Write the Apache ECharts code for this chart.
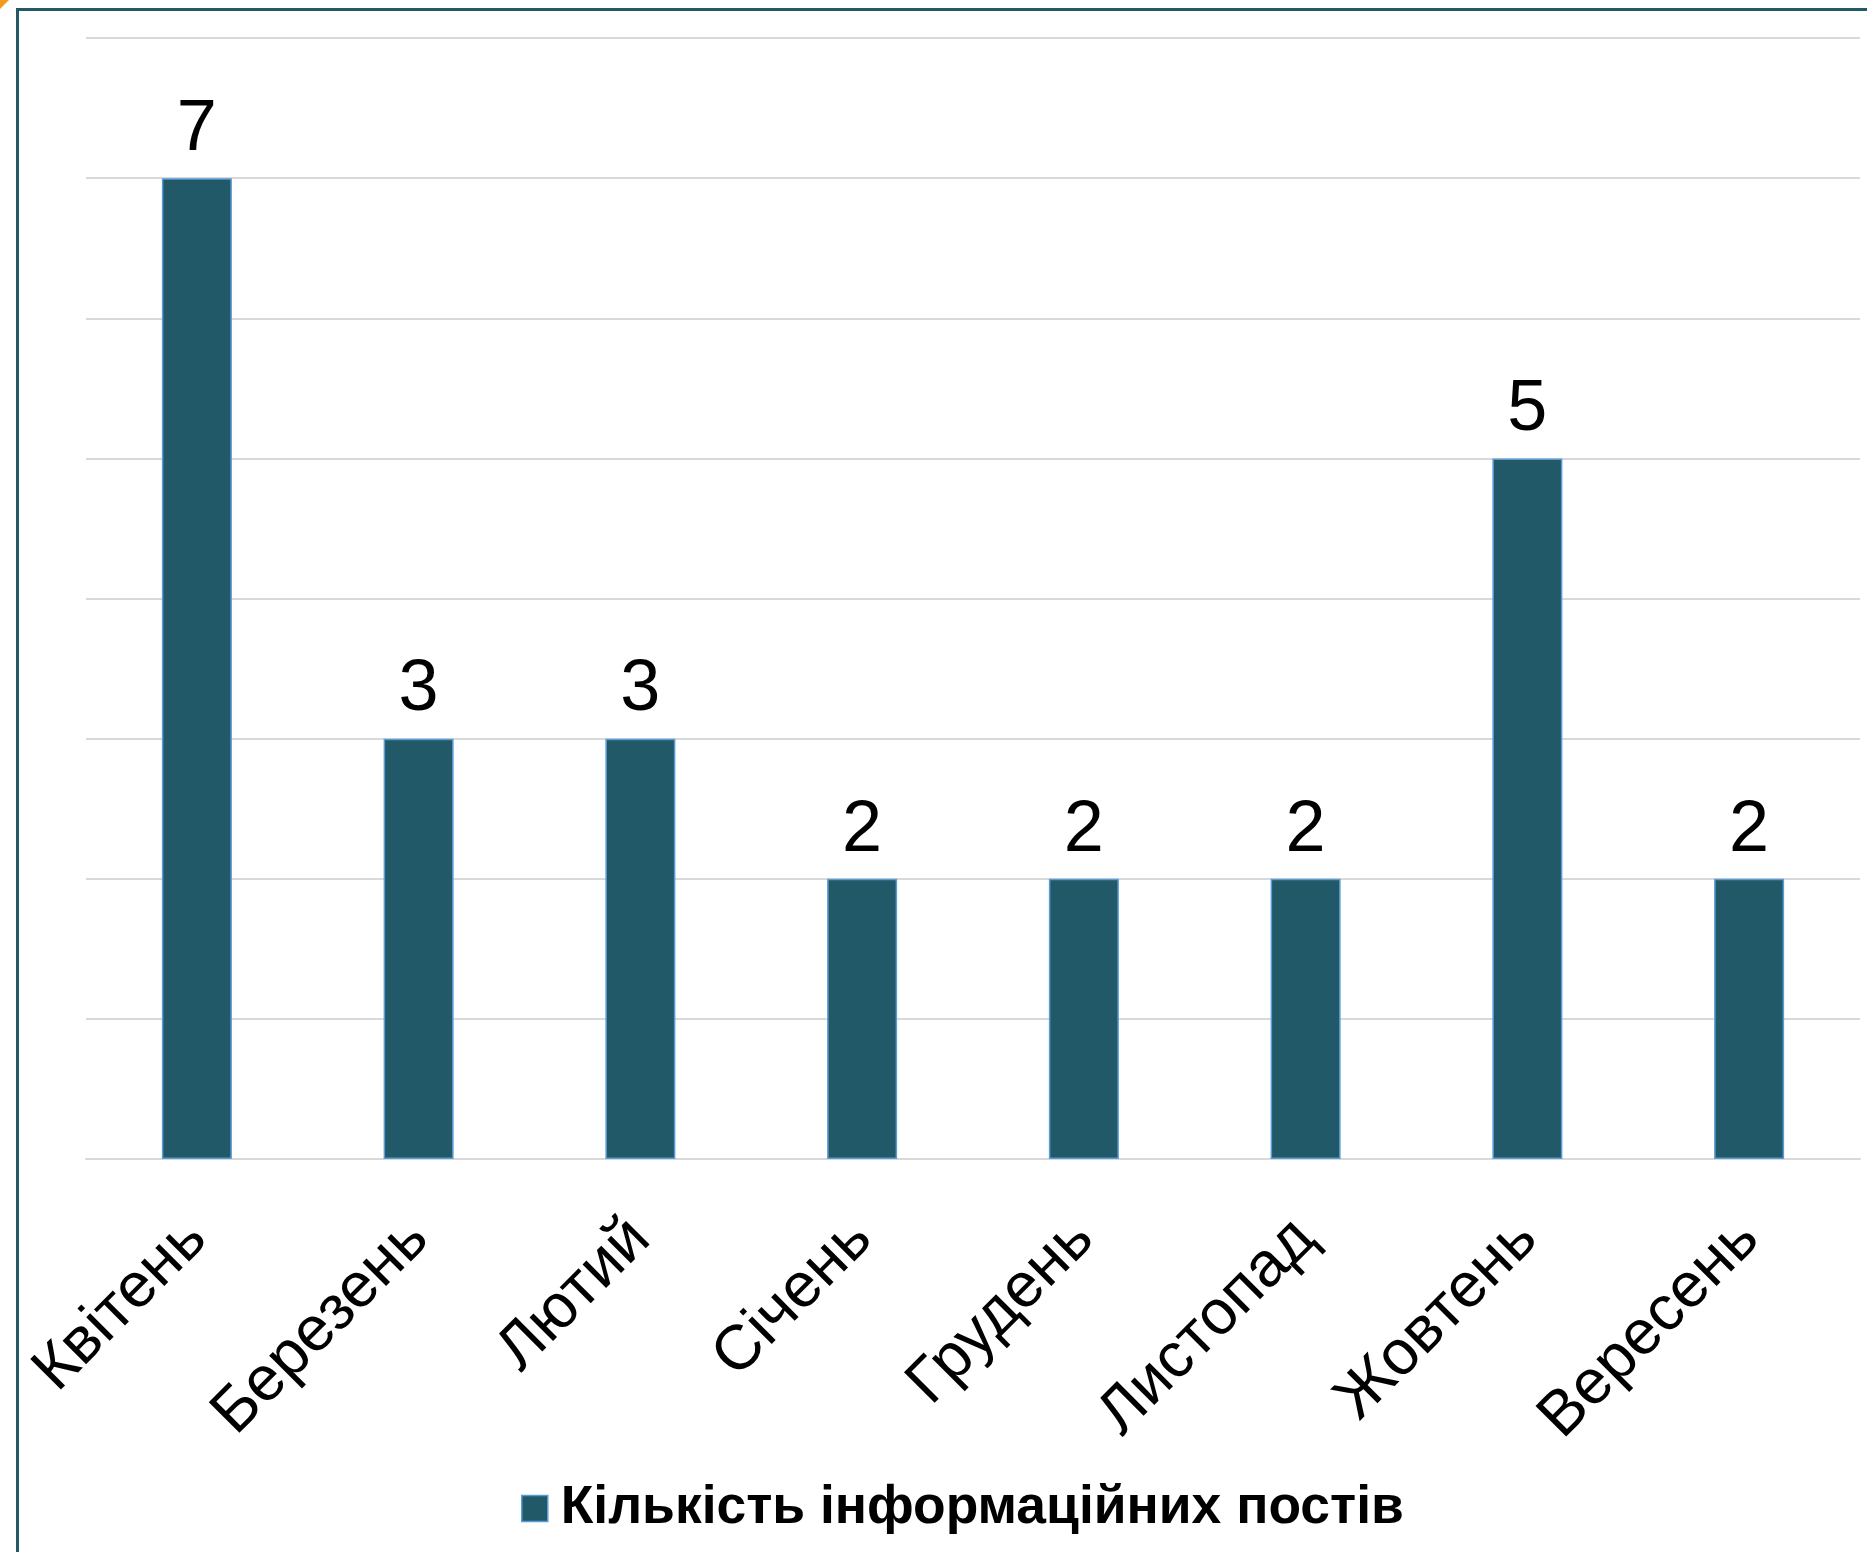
<!DOCTYPE html>
<html>
<head>
<meta charset="utf-8">
<script src="https://cdn.jsdelivr.net/npm/echarts@6/dist/echarts.min.js"></script>
<style>html,body{margin:0;padding:0;background:#fff}#c{width:1867px;height:1552px}</style>
</head>
<body>
<div id="c"></div>
<script>
const categories = ['Квітень', 'Березень', 'Лютий', 'Січень', 'Грудень', 'Листопад', 'Жовтень', 'Вересень'];
const postCounts = [7, 3, 3, 2, 2, 2, 5, 2];
const seriesName = 'Кількість інформаційних постів';

const chart = echarts.init(document.getElementById('c'), null, {renderer: 'canvas'});
chart.setOption({
  animation: false,
  backgroundColor: '#ffffff',
  textStyle: {fontFamily: 'Liberation Sans, Arial, sans-serif'},
  graphic: [
    {type: 'rect', shape: {x: 17, y: 8, width: 1850, height: 3}, style: {fill: '#215968'}},
    {type: 'rect', shape: {x: 16, y: 8, width: 3, height: 1544}, style: {fill: '#215968'}},
    {type: 'polygon', shape: {points: [[0, 0], [9, 0], [0, 9]]}, style: {fill: '#f29b1d'}}
  ],
  grid: {left: 86, right: 7, top: 38, bottom: 393, containLabel: false},
  legend: {
    data: [seriesName],
    left: 516,
    top: 1477,
    itemWidth: 26,
    itemHeight: 26,
    icon: 'rect',
    itemGap: 10,
    itemStyle: {borderColor: '#5b9bd5', borderWidth: 1.5},
    textStyle: {fontSize: 53.4, fontWeight: 'bold', color: '#000', padding: [0, 0, 0, 8], fontFamily: 'Liberation Sans, Arial, sans-serif'}
  },
  xAxis: {
    type: 'category',
    data: categories,
    axisLine: {show: true, lineStyle: {color: '#d9d9d9', width: 2}},
    axisTick: {show: false},
    axisLabel: {rotate: 45, fontSize: 63, color: '#000', margin: 70, interval: 0, fontFamily: 'Liberation Sans, Arial, sans-serif'}
  },
  yAxis: {
    type: 'value',
    min: 0, max: 8, interval: 1,
    axisLine: {show: false},
    axisTick: {show: false},
    axisLabel: {show: false},
    splitLine: {lineStyle: {color: '#d9d9d9', width: 2}}
  },
  series: [{
    name: seriesName,
    type: 'bar',
    data: postCounts,
    barWidth: 70,
    itemStyle: {color: '#215968', borderColor: '#5b9bd5', borderWidth: 1.5},
    label: {show: true, position: 'top', distance: 12, fontSize: 72, color: '#000', fontFamily: 'Liberation Sans, Arial, sans-serif'}
  }]
});
</script>
</body>
</html>
